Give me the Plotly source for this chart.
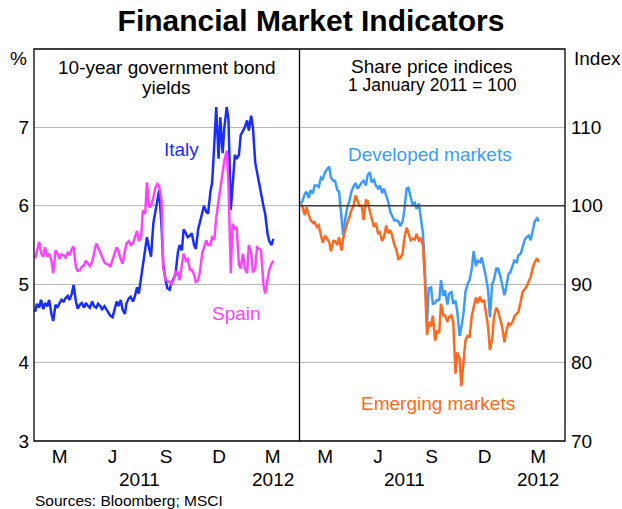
import plotly.graph_objects as go

# ---------------- data ----------------
dates = [
    "2011-01-03", "2011-01-06", "2011-01-10", "2011-01-13", "2011-01-17", "2011-01-20", "2011-01-24", "2011-01-27", "2011-01-31",
    "2011-02-03", "2011-02-07", "2011-02-10", "2011-02-14", "2011-02-17", "2011-02-21", "2011-02-24", "2011-02-28",
    "2011-03-03", "2011-03-07", "2011-03-10", "2011-03-14", "2011-03-17", "2011-03-21", "2011-03-24", "2011-03-28", "2011-03-31",
    "2011-04-04", "2011-04-07", "2011-04-11", "2011-04-14", "2011-04-18", "2011-04-21", "2011-04-25", "2011-04-28",
    "2011-05-02", "2011-05-05", "2011-05-09", "2011-05-12", "2011-05-16", "2011-05-19", "2011-05-23", "2011-05-26", "2011-05-30",
    "2011-06-02", "2011-06-06", "2011-06-09", "2011-06-13", "2011-06-16", "2011-06-20", "2011-06-23", "2011-06-27", "2011-06-30",
    "2011-07-04", "2011-07-07", "2011-07-11", "2011-07-14", "2011-07-18", "2011-07-21", "2011-07-25", "2011-07-28",
    "2011-08-01", "2011-08-04", "2011-08-08", "2011-08-11", "2011-08-15", "2011-08-18", "2011-08-22", "2011-08-25", "2011-08-29",
    "2011-09-01", "2011-09-05", "2011-09-08", "2011-09-12", "2011-09-15", "2011-09-19", "2011-09-22", "2011-09-26", "2011-09-29",
    "2011-10-03", "2011-10-06", "2011-10-10", "2011-10-13", "2011-10-17", "2011-10-20", "2011-10-24", "2011-10-27", "2011-10-31",
    "2011-11-03", "2011-11-07", "2011-11-10", "2011-11-14", "2011-11-17", "2011-11-21", "2011-11-24", "2011-11-28",
    "2011-12-01", "2011-12-05", "2011-12-08", "2011-12-12", "2011-12-15", "2011-12-19", "2011-12-22", "2011-12-26", "2011-12-29",
    "2012-01-02", "2012-01-05", "2012-01-09", "2012-01-12", "2012-01-16", "2012-01-19", "2012-01-23", "2012-01-26", "2012-01-30",
    "2012-02-02", "2012-02-06", "2012-02-09", "2012-02-13", "2012-02-16",
]

italy = [
    4.65, 4.75, 4.70, 4.80, 4.68, 4.76, 4.72, 4.80, 4.62,
    4.53, 4.74, 4.70, 4.76, 4.80, 4.78, 4.82, 4.85,
    4.80, 4.88, 4.99, 4.78, 4.69, 4.74, 4.76, 4.70, 4.76,
    4.72, 4.70, 4.78, 4.72, 4.70, 4.75, 4.72, 4.68,
    4.72, 4.68, 4.64, 4.60, 4.58, 4.66, 4.78, 4.72, 4.80,
    4.68, 4.62, 4.76, 4.82, 4.84, 4.78, 4.84, 4.96, 4.88,
    5.09, 5.30, 5.45, 5.60, 5.45, 5.35, 5.78, 5.90,
    6.10, 6.20, 5.75, 5.25, 5.05, 4.95, 4.93, 5.01, 5.08,
    5.12, 5.40, 5.50, 5.43, 5.70, 5.65, 5.60, 5.62, 5.65,
    5.50, 5.45, 5.70, 5.80, 5.90, 6.00, 5.92, 5.90, 6.18,
    6.30, 6.83, 7.26, 6.60, 7.13, 6.67, 7.00, 7.26,
    7.10, 5.95, 6.30, 6.65, 6.60, 6.65, 6.90, 6.96, 7.00,
    7.09, 6.96, 7.15, 7.00, 6.55, 6.42, 6.25, 6.15, 6.00,
    5.90, 5.65, 5.55, 5.50, 5.58,
]

spain = [
    5.33, 5.42, 5.54, 5.40, 5.35, 5.47, 5.35, 5.39, 5.30,
    5.14, 5.43, 5.40, 5.32, 5.38, 5.37, 5.34, 5.40,
    5.37, 5.45, 5.48, 5.22, 5.17, 5.18, 5.22, 5.24, 5.30,
    5.25, 5.23, 5.29, 5.40, 5.52, 5.47, 5.40, 5.33,
    5.28, 5.26, 5.25, 5.22, 5.30, 5.38, 5.47, 5.42, 5.32,
    5.26, 5.42, 5.52, 5.55, 5.50, 5.52, 5.60, 5.68, 5.55,
    5.60, 5.94, 5.90, 6.30, 5.98, 6.00, 6.10, 6.22,
    6.28, 6.25, 6.07, 5.20, 5.06, 5.04, 5.03, 5.00, 5.06,
    5.16, 5.15, 5.05, 5.28, 5.39, 5.30, 5.32, 5.18, 5.18,
    5.12, 5.03, 5.05, 5.16, 5.40, 5.48, 5.56, 5.50, 5.50,
    5.60, 5.58, 5.85, 6.05, 6.25, 6.45, 6.58, 6.70,
    6.28, 5.14, 5.77, 5.70, 5.73, 5.25, 5.20, 5.39, 5.20,
    5.14, 5.50, 5.40, 5.15, 5.20, 5.47, 5.45, 5.43, 5.00,
    4.88, 5.05, 5.18, 5.26, 5.30,
]

developed = [
    100.3, 100.6, 101.5, 101.8, 101.0, 102.0, 101.6, 102.6, 102.6,
    102.4, 103.6, 103.4, 104.3, 104.6, 105.0, 103.6, 103.2,
    103.2, 102.0, 101.8, 98.0, 96.2, 98.5, 99.8, 100.7, 101.8,
    102.5, 102.9, 102.2, 102.6, 103.0, 103.2, 102.6, 103.9,
    104.3, 103.0, 103.3, 102.6, 102.2, 102.6, 101.6, 102.2, 101.4,
    100.6, 99.2, 98.8, 98.1, 98.2, 98.0, 97.4, 98.0, 99.4,
    102.2, 102.3, 101.0, 100.2, 100.4, 99.6, 100.3, 98.5,
    96.5, 92.5, 85.0, 89.5, 89.6, 87.5, 87.6, 88.0, 88.0,
    90.5, 88.5, 89.2, 87.4, 88.8, 89.0, 87.5, 87.9, 86.5,
    83.4, 84.5, 86.5, 89.0, 90.1, 90.5, 92.0, 94.2, 92.3,
    93.0, 92.8, 93.4, 92.2, 91.0, 89.2, 85.8, 90.0,
    90.6, 92.0, 92.0, 91.0, 90.0, 88.6, 89.6, 91.3, 91.5,
    92.5, 93.0, 92.8, 93.7, 93.9, 94.8, 95.7, 96.0, 96.2,
    95.6, 97.0, 98.0, 98.4, 98.0,
]

emerging = [
    100.2, 99.9, 98.8, 99.8, 98.8, 98.2, 97.8, 97.9, 97.3,
    97.5, 96.2, 95.3, 96.2, 95.8, 95.4, 94.2, 95.5,
    95.5, 95.0, 96.0, 94.3, 95.8, 97.0, 97.8, 98.6, 99.4,
    100.0, 101.3, 100.6, 100.0, 100.0, 98.2, 100.7, 100.6,
    99.2, 98.5, 97.3, 97.8, 96.5, 96.6, 95.5, 96.0, 97.5,
    96.5, 96.9, 96.2, 95.0, 94.5, 93.2, 93.3, 93.9, 95.8,
    97.2, 96.5, 95.6, 95.8, 95.7, 96.4, 95.6, 95.8,
    95.0, 91.0, 83.5, 85.2, 84.6, 86.0, 82.8, 84.0, 83.8,
    87.5, 86.0, 86.0, 85.2, 85.8, 86.0, 85.2, 78.6, 81.3,
    80.5, 77.0, 80.0, 82.8, 83.5, 83.2, 86.0, 87.0, 88.3,
    87.6, 88.4, 87.8, 87.9, 86.5, 84.5, 81.6, 83.0,
    85.8, 87.0, 86.6, 85.6, 84.6, 82.6, 84.0, 85.0, 84.8,
    85.2, 85.9, 86.2, 86.5, 87.8, 89.0, 89.4, 89.7, 90.4,
    90.9, 92.2, 92.8, 93.3, 92.8,
]

quarter_mids = ["2011-02-14", "2011-05-16", "2011-08-16", "2011-11-15", "2012-02-15"]
quarter_labels = ["M", "J", "S", "D", "M"]
quarter_bounds = ["2011-04-01", "2011-07-01", "2011-10-01", "2012-01-01"]
year_positions = ["2011-07-01", "2012-02-15"]
year_labels = ["2011", "2012"]
x_range = ["2011-01-01", "2012-04-01"]

left_ticks = [3, 4, 5, 6, 7]
right_ticks = [70, 80, 90, 100, 110]

# ---------------- styling ----------------
FONT = "Arial, Liberation Sans, sans-serif"
W, H = 622, 509
ML, MR, MT, MB = 34, 57, 49, 68
PW, PH = W - ML - MR, H - MT - MB


def px(xs):
    """screen x pixel -> paper coordinate"""
    return (xs - ML) / PW


def py(ys):
    """screen y pixel -> paper coordinate"""
    return (H - MB - ys) / PH


C_ITALY = "#1a2dff"
C_SPAIN = "#ff44ff"
C_DEV = "#3d9bff"
C_EM = "#ff6a21"
GRID = "#b8b8b8"

fig = go.Figure()
fig.add_trace(go.Scatter(x=dates, y=italy, mode="lines", line=dict(color=C_ITALY, width=2.5),
                         xaxis="x", yaxis="y", name="Italy"))
fig.add_trace(go.Scatter(x=dates, y=spain, mode="lines", line=dict(color=C_SPAIN, width=2.5),
                         xaxis="x", yaxis="y", name="Spain"))
fig.add_trace(go.Scatter(x=dates, y=developed, mode="lines", line=dict(color=C_DEV, width=2.5),
                         xaxis="x2", yaxis="y2", name="Developed markets"))
fig.add_trace(go.Scatter(x=dates, y=emerging, mode="lines", line=dict(color=C_EM, width=2.5),
                         xaxis="x2", yaxis="y2", name="Emerging markets"))

label_axis = dict(
    type="date", range=x_range, tickmode="array", tickvals=quarter_mids, ticktext=quarter_labels,
    ticks="", showgrid=False, zeroline=False, showline=False, automargin=False,
    ticklabelstandoff=2,
    tickfont=dict(family=FONT, size=19, color="black"),
)
tick_axis = dict(
    type="date", range=x_range, tickmode="array", tickvals=quarter_bounds,
    ticks="inside", ticklen=7, tickcolor="black", tickwidth=1.2, showticklabels=False,
    showgrid=False, zeroline=False, showline=False, automargin=False,
)
ycommon = dict(domain=[0, 1], tickmode="array", showgrid=True, gridcolor=GRID, gridwidth=1,
               zeroline=False, showline=False, ticks="", automargin=False,
               tickfont=dict(family=FONT, size=19, color="black"))

fig.update_layout(
    xaxis=dict(domain=[0, 0.5], anchor="y", **label_axis),
    xaxis2=dict(domain=[0.5, 1], anchor="y2", **label_axis),
    xaxis3=dict(domain=[0, 0.5], anchor="y", overlaying="x", **tick_axis),
    xaxis4=dict(domain=[0.5, 1], anchor="y2", overlaying="x2", **tick_axis),
    yaxis=dict(anchor="x", range=[3, 8], tickvals=left_ticks, ticklabelstandoff=4, **ycommon),
    yaxis2=dict(anchor="x2", side="right", range=[70, 120], tickvals=right_ticks,
                ticklabelstandoff=5, **ycommon),
)

shapes = [
    dict(type="line", xref="paper", yref="y2", x0=0.5, x1=1, y0=100, y1=100,
         line=dict(color="#3a3a3a", width=1.5), layer="above"),
    dict(type="rect", xref="paper", yref="paper", x0=0, x1=1, y0=0, y1=1,
         line=dict(color="black", width=1.3), layer="above"),
    dict(type="line", xref="paper", yref="paper", x0=0.5, x1=0.5, y0=0, y1=1,
         line=dict(color="black", width=1.3), layer="above"),
]

ann = []


def add_text(text, x, y, size=19, color="black", xanchor="center", xref="paper", yref="paper"):
    ann.append(dict(text=text, x=x, y=y, xref=xref, yref=yref, showarrow=False,
                    xanchor=xanchor, yanchor="middle",
                    font=dict(family=FONT, size=size, color=color)))


add_text("%", px(18.5), py(58.5))
add_text("Index", px(572), py(58.5), xanchor="left")
add_text("10-year government bond", 0.25, py(67))
add_text("yields", 0.25, py(87))
add_text("Share price indices", 0.75, py(66))
add_text("1 January 2011 = 100", 0.75, py(85), size=17.5)
add_text("Italy", px(181), py(149.5), color=C_ITALY)
add_text("Spain", px(236), py(313.5), color=C_SPAIN)
add_text("Developed markets", px(430), py(154.5), color=C_DEV)
add_text("Emerging markets", px(438), py(403.5), color=C_EM)
for xr in ["x", "x2"]:
    for pos, lab in zip(year_positions, year_labels):
        add_text(lab, pos, py(479.5), xref=xr)
add_text("Sources: Bloomberg; MSCI", px(33), py(500), size=15.5, xanchor="left")

fig.update_layout(
    width=W, height=H, margin=dict(l=ML, r=MR, t=MT, b=MB, autoexpand=False),
    paper_bgcolor="white", plot_bgcolor="white", showlegend=False,
    title=dict(text="<b>Financial Market Indicators</b>", x=0.5, xref="container", xanchor="center",
               y=1 - 20 / H, yref="container", yanchor="middle",
               font=dict(family=FONT, size=30, color="black")),
    shapes=shapes, annotations=ann, hovermode=False,
)

fig.write_html(
    "out.html",
    config={"displayModeBar": False, "staticPlot": True},
    post_script="document.body.style.margin='0';document.body.style.overflow='hidden';",
)
